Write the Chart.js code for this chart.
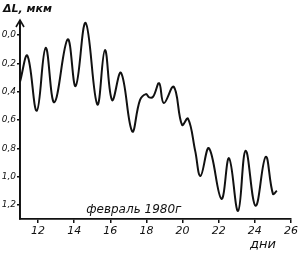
<!DOCTYPE html>
<html>
<head>
<meta charset="utf-8">
<script src="https://cdn.jsdelivr.net/npm/chart.js@4/dist/chart.umd.min.js"></script>
<style>
  html, body { margin: 0; padding: 0; background: #fff; }
  #wrap { width: 300px; height: 259px; }
</style>
</head>
<body>
<div id="wrap"><canvas id="dl_chart" width="300" height="259"></canvas></div>
<script>
// days of February 1980 and ΔL (мкм)
const days = [11, 11.41, 11.93, 12.42, 12.9, 13.64, 14.08, 14.63, 15.28, 15.7, 16.1, 16.59, 17.21, 17.64, 17.97, 18.15, 18.37, 18.7, 18.96, 19.51, 19.97, 20.3, 20.7, 20.99, 21.46, 22.15, 22.57, 23.07, 23.49, 24.04, 24.6, 25.0, 25.22];
const dL = [0.33, 0.146, 0.535, 0.09, 0.475, 0.03, 0.36, -0.087, 0.49, 0.106, 0.46, 0.266, 0.68, 0.46, 0.417, 0.44, 0.435, 0.34, 0.48, 0.365, 0.635, 0.59, 0.82, 0.996, 0.80, 1.158, 0.87, 1.243, 0.817, 1.207, 0.86, 1.122, 1.10];
const xTicks = [12, 14, 16, 18, 20, 22, 24, 26];
const yTicks = [0, 0.2, 0.4, 0.6, 0.8, 1.0, 1.2];

const ink = '#111';

const extras = {
  id: 'extras',
  afterDraw(chart) {
    const c = chart.ctx, a = chart.chartArea;
    c.save();
    c.strokeStyle = ink; c.fillStyle = ink; c.lineWidth = 1.6;
    // arrow on the y axis
    c.beginPath();
    c.moveTo(a.left, a.bottom); c.lineTo(a.left, a.top - 1);
    c.moveTo(a.left - 4, a.top + 6); c.lineTo(a.left, a.top - 1); c.lineTo(a.left + 4, a.top + 6);
    c.stroke();
    c.textBaseline = 'middle';
    c.font = 'italic bold 11px "DejaVu Sans"';
    c.textAlign = 'left';
    c.fillText('ΔL, мкм', 3, 9);
    c.font = 'italic 12px "DejaVu Sans"';
    c.textAlign = 'center';
    c.fillText('февраль 1980г', chart.scales.x.getPixelForValue(17.3), 210);
    c.font = 'italic 13px "DejaVu Sans"';
    c.textAlign = 'left';
    c.fillText('дни', 250, 245);
    c.restore();
  }
};

new Chart(document.getElementById('dl_chart').getContext('2d'), {
  type: 'line',
  data: {
    datasets: [{
      data: days.map((d, i) => ({ x: d, y: dL[i] })),
      borderColor: ink, borderWidth: 2, pointRadius: 0,
      tension: 0.4, fill: false
    }]
  },
  options: {
    responsive: false, animation: false,
    layout: { padding: { top: 21, right: 8, left: 0, bottom: 0 } },
    plugins: { legend: { display: false }, tooltip: { enabled: false } },
    scales: {
      x: {
        type: 'linear', min: 11, max: 26,
        afterFit: s => { s.height = 40; },
        afterBuildTicks: s => { s.ticks = xTicks.map(v => ({ value: v })); },
        grid: { drawOnChartArea: false, color: ink, tickLength: 4, lineWidth: 1.5 },
        border: { color: ink, width: 1.8 },
        ticks: { color: ink, font: { family: 'DejaVu Sans', style: 'italic', size: 11 }, padding: 2, maxRotation: 0 }
      },
      y: {
        type: 'linear', reverse: true, min: -0.1, max: 1.3,
        afterFit: s => { s.width = 20; },
        afterBuildTicks: s => { s.ticks = yTicks.map(v => ({ value: v })); },
        grid: { drawOnChartArea: false, color: ink, tickLength: 3, lineWidth: 1.5 },
        border: { color: ink, width: 1.8 },
        ticks: {
          color: ink, font: { family: 'DejaVu Sans', style: 'italic', size: 9 }, padding: 1,
          callback: v => v.toFixed(1).replace('.', ',')
        }
      }
    }
  },
  plugins: [extras]
});
</script>
</body>
</html>
